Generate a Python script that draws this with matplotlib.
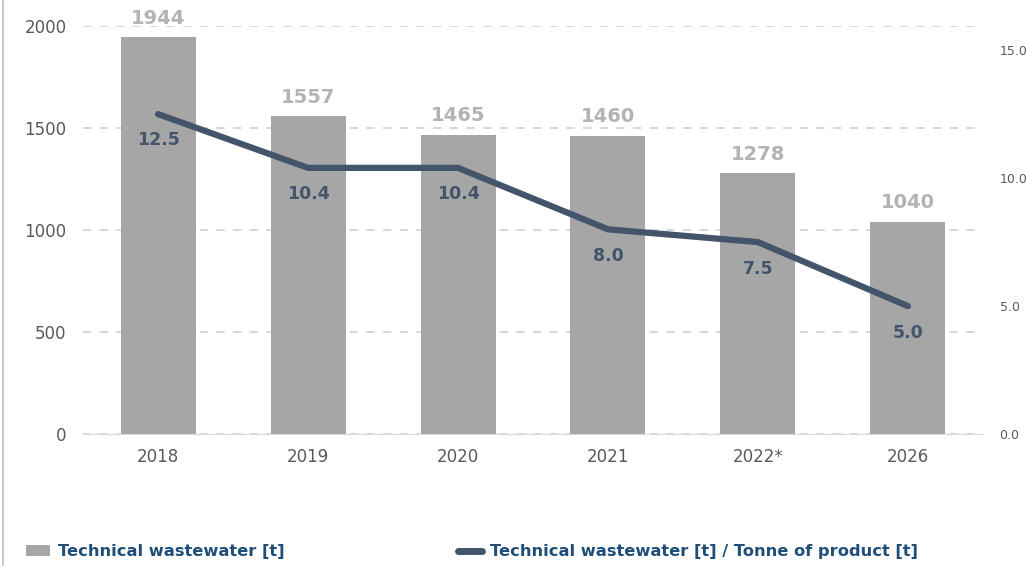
import numpy as np
import matplotlib.pyplot as plt
from matplotlib.lines import Line2D
from matplotlib.patches import Patch

# data
anni = ['2018', '2019', '2020', '2021', '2022*', '2026']
acque_reflue = [1944, 1557, 1465, 1460, 1278, 1040]          # Technical wastewater [t]
per_tonnellata = [12.5, 10.4, 10.4, 8.0, 7.5, 5.0]          # [t] / tonne of product

col_barre = '#a6a6a6'
col_linea = '#44546a'
col_testo = '#1f4e79'
col_tick = '#595959'

fig = plt.figure(figsize=(10.26, 5.66), dpi=100)
ax = fig.add_axes([0.081, 0.233, 0.877, 0.721])
ax2 = ax.twinx()

x = np.arange(len(anni))
ax.bar(x, acque_reflue, width=0.5, color=col_barre, zorder=2)
ax.set_xlim(-0.5, 5.5)
ax.set_ylim(0, 2000)
ax.set_yticks([0, 500, 1000, 1500, 2000])
ax.set_xticks(x)
ax.set_xticklabels(anni)
ax.tick_params(axis='both', length=0, labelsize=12, labelcolor=col_tick)
ax.tick_params(axis='y', pad=12)
ax.tick_params(axis='x', pad=10)
for s in ['top', 'right', 'left']:
    ax.spines[s].set_visible(False)
ax.spines['bottom'].set_color('#d9d9d9')
ax.yaxis.grid(True, ls=(0, (5, 5)), color='#d0d0d0', lw=1.2, zorder=0)
ax.set_axisbelow(True)

for xi, v in zip(x, acque_reflue):
    ax.annotate(str(v), (xi, v), xytext=(0, 7), textcoords='offset points',
                ha='center', va='bottom', fontsize=14, fontweight='bold', color='#b3b3b3')

# asse destro: 0-15.94 per allineare le tacche con la scala di sinistra
ax2.plot(x, per_tonnellata, color=col_linea, lw=4.5, solid_capstyle='round', zorder=3)
ax2.set_ylim(0, 15.94)
ax2.set_yticks([0, 5, 10, 15])
ax2.set_yticklabels(['0.0', '5.0', '10.0', '15.0'])
ax2.tick_params(axis='y', length=0, labelsize=9, labelcolor=col_tick, pad=12)
for s in ['top', 'right', 'left', 'bottom']:
    ax2.spines[s].set_visible(False)

for xi, v in zip(x, per_tonnellata):
    ax2.annotate(f'{v:.1f}', (xi, v), xytext=(0, -19), textcoords='offset points',
                 ha='center', va='center', fontsize=12.5, fontweight='bold', color=col_linea)

# legenda
h1 = Patch(facecolor=col_barre)
h2 = Line2D([], [], color=col_linea, lw=5, solid_capstyle='round')
leg_kw = dict(frameon=False, prop={'weight': 'bold', 'size': 11.7}, labelcolor=col_testo,
              handlelength=1.5, handleheight=0.6, handletextpad=0.45)
fig.legend([h1], ['Technical wastewater [t]'], loc='center left',
           bbox_to_anchor=(0.011, 0.025), **leg_kw)
fig.legend([h2], ['Technical wastewater [t] / Tonne of product [t]'], loc='center left',
           bbox_to_anchor=(0.432, 0.025), **leg_kw)

fig.add_artist(Line2D([0.003, 0.003], [0, 1], transform=fig.transFigure, color='#c8c8c8', lw=1.5))

plt.savefig('out.png', dpi=100)
